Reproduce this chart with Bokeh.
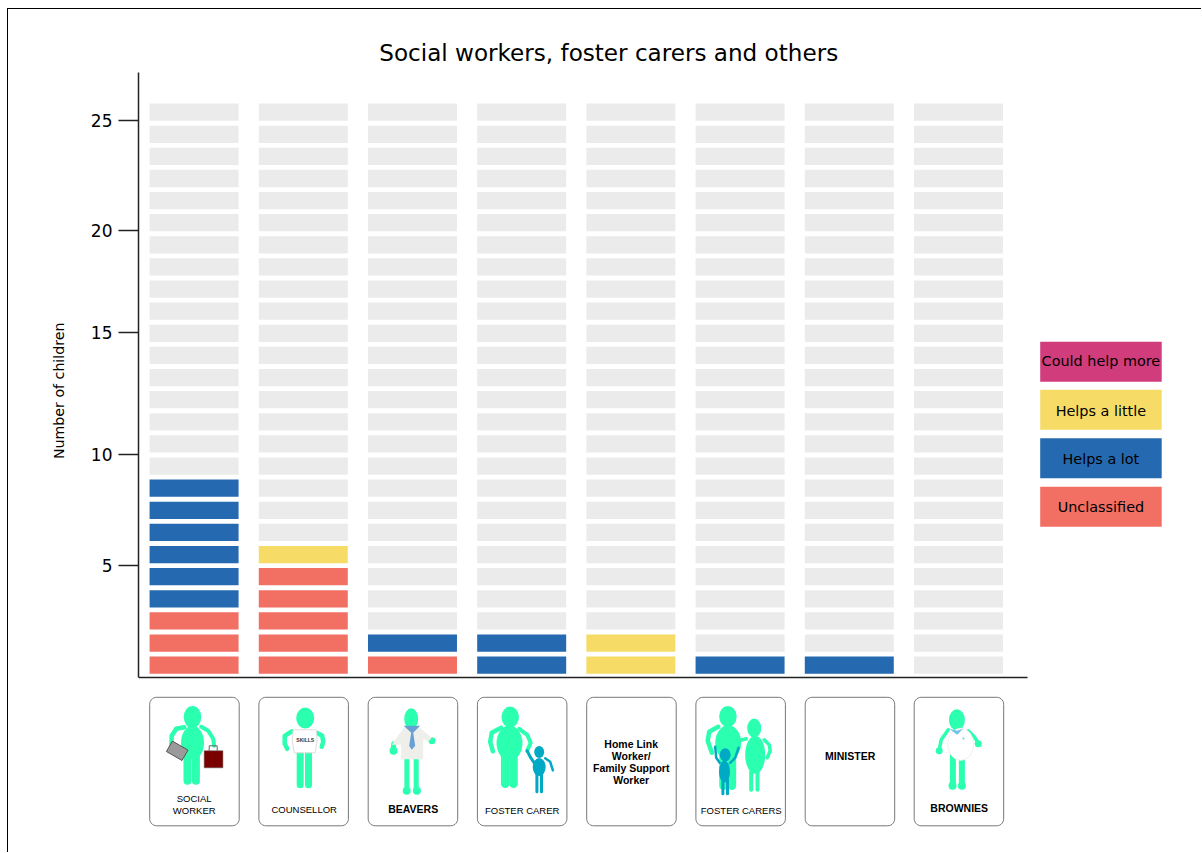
import numpy as np
from bokeh.embed import file_html
from bokeh.models import ColumnDataSource, FixedTicker, Range1d, Title
from bokeh.core.properties import value
from bokeh.plotting import figure
from bokeh.resources import INLINE

# ---- data ----
categories = ["SOCIAL WORKER", "COUNSELLOR", "BEAVERS", "FOSTER CARER",
              "Home Link Worker/ Family Support Worker", "FOSTER CARERS", "MINISTER", "BROWNIES"]
unclassified = [3, 5, 1, 0, 0, 0, 0, 0]
helps_a_lot = [6, 0, 1, 2, 0, 1, 1, 0]
helps_a_little = [0, 1, 0, 0, 2, 0, 0, 0]
could_help_more = [0, 0, 0, 0, 0, 0, 0, 0]
row_count = 26
tick_labels = ["5", "10", "15", "20", "25"]
tick_places = [5.08, 10.1, 15.6, 20.2, 25.2]
series_names = ["Could help more", "Helps a little", "Helps a lot", "Unclassified"]

# ---- style ----
PINK, YELLOW, BLUE, SALMON, GREY = "#D13C7C", "#F6DC67", "#256AB1", "#F26F63", "#EBEBEB"
GREEN, CHILD = "#2BFFB0", "#00A9C4"
FONT = "DejaVu Sans"
CARD_FONT = "Liberation Sans"

p = figure(frame_width=1063, frame_height=843, min_border_left=130, min_border_right=0,
           min_border_top=0, min_border_bottom=0, output_backend="svg", toolbar_location=None,
           x_range=Range1d(-0.509, 9.2255), y_range=Range1d(-7.90, 30.21),
           styles={"border-top": "1px solid #000", "border-left": "1px solid #000",
                   "margin-left": "7px", "margin-top": "8px", "box-sizing": "content-box"})
p.outline_line_color = None
p.grid.visible = False

# page coordinates for the decoration (pictogram cards, legend, title)
p.extra_x_ranges["page"] = Range1d(138.3, 1201.3)
p.extra_y_ranges["page"] = Range1d(852.7, 9.7)
PG = dict(x_range_name="page", y_range_name="page")

# axes
ya = p.yaxis[0]
ya.ticker = FixedTicker(ticks=tick_places)
ya.major_label_overrides = dict(zip(tick_places, tick_labels))
ya.bounds = (0, 27.36)
ya.major_tick_in = 0
ya.major_tick_out = 20
ya.minor_tick_out = 0
ya.minor_tick_in = 0
ya.major_label_standoff = 6
ya.major_label_text_font = FONT
ya.major_label_text_font_size = "17px"
ya.major_label_text_color = "#000000"
ya.axis_line_color = "#222222"
ya.axis_line_width = 1.5
ya.major_tick_line_color = "#222222"
ya.major_tick_line_width = 1.5

xa = p.xaxis[0]
xa.fixed_location = 0
xa.bounds = (-0.509, 7.63)
xa.ticker = FixedTicker(ticks=[])
xa.major_tick_in = xa.major_tick_out = xa.minor_tick_in = xa.minor_tick_out = 0
xa.major_label_text_font_size = "0px"
xa.major_label_standoff = 0
xa.axis_line_color = "#222222"
xa.axis_line_width = 1.5

p.add_layout(Title(text="Number of children", align="right", offset=313, standoff=41, text_font=FONT,
                   text_font_size="14.2px", text_font_style="normal", text_color="#000000"), "left")

# bars
BAR_W = 0.815
BAR_LOW, BAR_HIGH = 0.18, 0.96
xs, lows, highs, cols = [], [], [], []
for i in range(len(categories)):
    filled = [SALMON] * unclassified[i] + [BLUE] * helps_a_lot[i] + \
             [YELLOW] * helps_a_little[i] + [PINK] * could_help_more[i]
    for r in range(row_count):
        xs.append(i)
        lows.append(r + BAR_LOW)
        highs.append(r + BAR_HIGH)
        cols.append(filled[r] if r < len(filled) else GREY)
p.vbar(x="x", bottom="b", top="t", width=BAR_W, fill_color="c", line_color=None,
       source=ColumnDataSource(dict(x=xs, b=lows, t=highs, c=cols)))

# text helper
def txt(x, y, s, size, font=FONT, style="normal", color="#000000"):
    p.text([x], [y], text=[s], text_font=value(font), text_font_size=size,
           text_font_style=style, text_color=color, text_align="center",
           text_baseline="middle", **PG)

txt(608.5, 53, "Social workers, foster carers and others", "23.1px")

# legend
legend_colors = [PINK, YELLOW, BLUE, SALMON]
legend_tops = [342, 390, 438.5, 487]
legend_text_shift = [19.5, 21, 20.5, 20.5]
for name, c, t, d in zip(series_names, legend_colors, legend_tops, legend_text_shift):
    p.quad(left=1040, right=1161.5, top=t, bottom=t + 40, fill_color=c, line_color=None, **PG)
    txt(1100.7, t + d, name, "14.4px")

# cards
def card(x0):
    x1, y0, y1, r = x0 + 89.5, 697.5, 826, 7
    a = np.linspace(0, np.pi / 2, 8)
    px = np.r_[x0 + r - r * np.cos(a), x1 - r + r * np.sin(a), x1 - r + r * np.cos(a), x0 + r - r * np.sin(a)]
    py = np.r_[y0 + r - r * np.sin(a), y0 + r - r * np.cos(a), y1 - r + r * np.sin(a), y1 - r + r * np.cos(a)]
    p.patch(px, py, fill_color="#ffffff", line_color="#777777", line_width=1, **PG)

for x0 in [149.5, 258.7, 368, 477.2, 586.5, 695.7, 805, 914]:
    card(x0)

def head(x, y, w, h, c=GREEN):
    p.ellipse([x], [y], width=w, height=h, fill_color=c, line_color=None, **PG)

def limb(x, y, w, c=GREEN):
    p.line(x, y, line_color=c, line_width=w, line_cap="round", line_join="round", **PG)

def dot(x, y, r, c=GREEN):
    p.ellipse([x], [y], width=2 * r, height=2 * r, fill_color=c, line_color=None, **PG)

def poly(x, y, c, lc=None):
    p.patch(x, y, fill_color=c, line_color=lc, **PG)

# social worker
head(192.3, 717.3, 17.5, 22)
head(192.3, 743, 23, 34)
limb([187.3, 187.3], [755, 781], 8)
limb([195.7, 195.7], [755, 781], 8)
limb([184, 176, 171.5, 171], [727.5, 729, 736, 750], 4.5)
limb([201, 208, 213, 214], [727, 731, 739, 746], 4)
p.rect([177], [751], width=18, height=12, angle=-30, angle_units="deg", fill_color="#9a9a9a",
       line_color="#555555", **PG)
p.quad(left=204, right=222.7, top=751, bottom=768, fill_color="#7A0000", line_color="#555555", line_width=0.5, **PG)
limb([209, 209, 217, 217], [751, 746, 746, 751], 1, "#666666")

# counsellor
head(305, 718.3, 18, 21)
limb([300, 300], [750, 785], 7)
limb([308.3, 308.3], [750, 785], 7)
limb([291.5, 284.5, 284.5, 287], [731.5, 736, 744, 749], 4.5)
limb([316.5, 322, 323, 321.5], [733, 736, 742, 747], 4.5)
poly([293, 316, 317, 315, 294, 292], [730, 730, 740, 753, 753, 740], "#ffffff", "#dddddd")
txt(305, 740.5, "SKILLS", "5px", CARD_FONT, "bold", "#333333")

# beavers
head(411, 719, 14, 21)
limb([406.7, 406.7], [758, 790], 5)
limb([416, 416], [758, 790], 5)
dot(406.5, 791, 4)
dot(416.7, 791, 4)
limb([393.5, 393], [744, 751], 5)
dot(393.3, 751, 4)
dot(431.7, 741, 3.5)
poly([404, 419, 431.5, 428, 423, 423, 401, 401, 396, 391.5],
     [727.5, 727.5, 738, 742, 739, 759.5, 759.5, 745, 745, 745],
     "#EEEEEA")
poly([403.5, 420, 413, 415, 411.5, 409, 411], [726, 726, 733, 746, 750, 746, 733], "#6A9FD4")

# foster carer
head(510, 717.3, 17.5, 21)
head(509.3, 743.3, 26, 35)
limb([505, 505], [755, 784], 8.5)
limb([513.3, 513.3], [755, 784], 8.5)
limb([501, 491.5, 490, 492.7], [728, 733, 742, 751.5], 4.5)
limb([519, 527, 530.5, 527], [729, 735, 743, 751], 4)
limb([527, 530, 534], [751, 757, 763], 3, CHILD)
head(539, 752.3, 10, 12, CHILD)
head(539, 767.3, 13, 18, CHILD)
limb([536.7, 536.7], [773, 792], 3, CHILD)
limb([541.3, 541.3], [773, 792], 3, CHILD)
limb([545, 550, 552.7], [758.5, 762, 770.5], 2.5, CHILD)

# foster carers
head(727.7, 716.7, 17.5, 21)
head(728, 743, 26, 35)
limb([723.3, 723.3], [755, 786], 8.5)
limb([731.7, 731.7], [755, 786], 8.5)
limb([718, 709, 707.5, 711.7], [727, 732, 741, 753], 4.5)
head(754, 728.3, 14, 19)
head(755, 755, 20, 38)
limb([751, 751], [772, 790], 4)
limb([757.3, 757.3], [772, 790], 4)
limb([746, 738, 735], [739, 741, 747], 3.5)
limb([764, 769, 770, 767], [740, 745, 751, 758], 3.5)
head(725, 755, 11, 13, CHILD)
head(724.3, 771.7, 11, 22, CHILD)
limb([722.7, 722.7], [780, 794], 3, CHILD)
limb([727.3, 727.3], [780, 794], 3, CHILD)
limb([719.5, 716, 715], [763, 758, 747], 2.5, CHILD)
limb([730, 735, 738.3], [763, 758, 748], 2.5, CHILD)

# brownies
head(956.7, 720, 16, 21)
limb([952.7, 952.7], [756, 785], 6)
limb([961.7, 961.7], [756, 785], 6)
dot(952.3, 786, 4)
dot(961.7, 786, 4)
limb([948, 941, 939], [730, 740, 750], 3.5)
dot(939, 751, 3.5)
limb([968, 974, 978], [731, 737, 743], 3.5)
dot(978, 744, 3.5)
p.ellipse([960.5], [744.5], width=26, height=32, fill_color="#ffffff", line_color="#eeeeee", **PG)
poly([949, 957, 963, 957], [729, 735, 729, 731], "#6EC1EE")
dot(963.3, 738.7, 1, "#6EC1EE")

# card labels
card_labels = [
    (194, 799, "SOCIAL", "normal", "9.5px"), (194, 810.5, "WORKER", "normal", "9.5px"),
    (304, 809.5, "COUNSELLOR", "normal", "9.5px"), (413, 809, "BEAVERS", "bold", "10.5px"),
    (522, 810.5, "FOSTER CARER", "normal", "9.5px"),
    (631, 743.7, "Home Link", "bold", "10.5px"), (631, 755.7, "Worker/", "bold", "10.5px"),
    (631, 767.7, "Family Support", "bold", "10.5px"), (631, 779.7, "Worker", "bold", "10.5px"),
    (741, 811, "FOSTER CARERS", "normal", "9.5px"),
    (850, 755.7, "MINISTER", "bold", "10.5px"), (959, 807.7, "BROWNIES", "bold", "10.5px"),
]
for x, y, s, st, sz in card_labels:
    txt(x, y, s, sz, CARD_FONT, st, "#000000")

open("out.html", "w").write(file_html(p, INLINE))
